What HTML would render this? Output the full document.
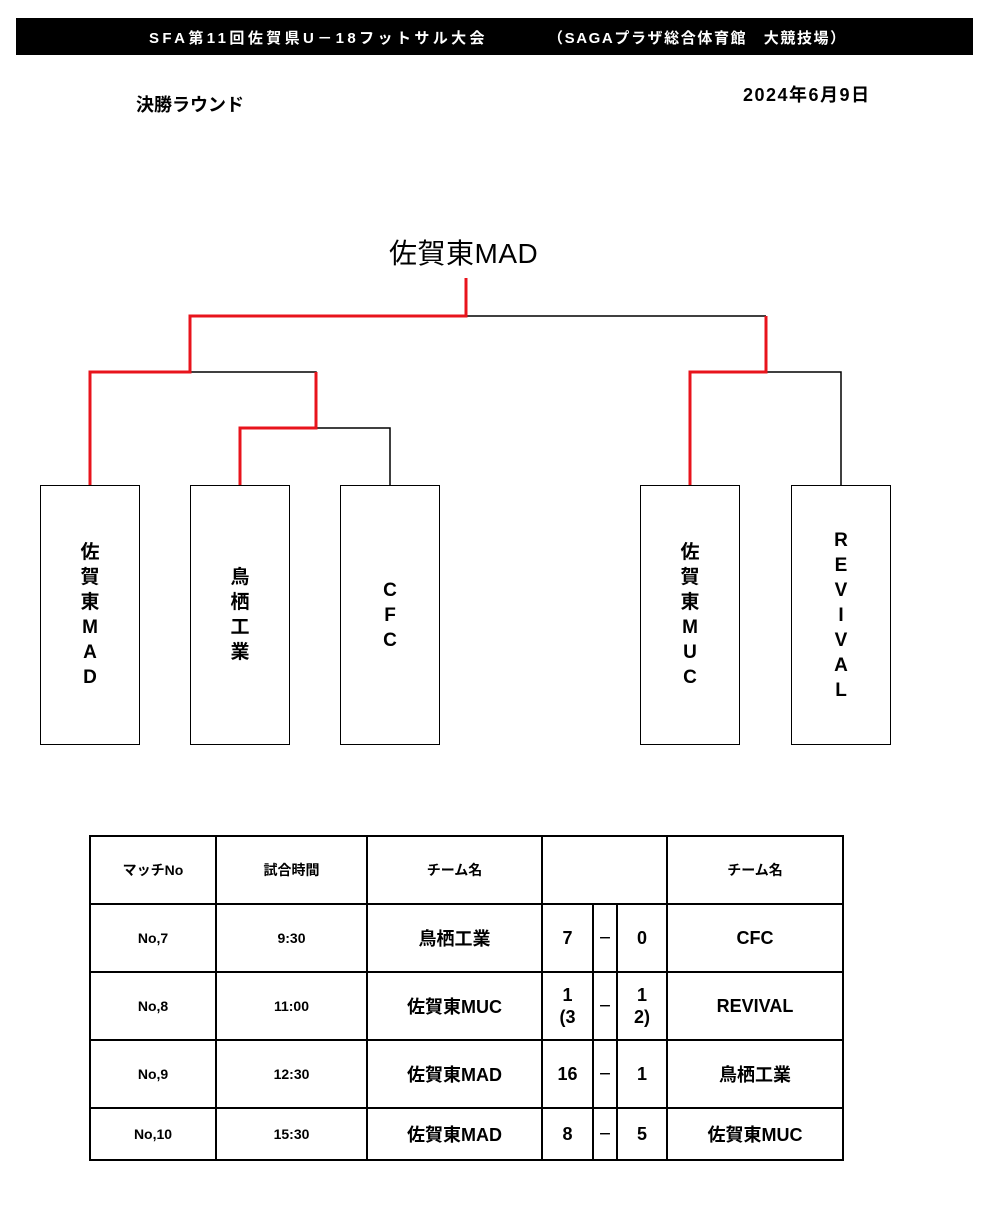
<!DOCTYPE html>
<html><head><meta charset="utf-8"><style>
body{margin:0;width:1000px;height:1212px;background:#fff;position:relative;font-family:"Liberation Sans","Noto Sans CJK JP",sans-serif;color:#000;overflow:hidden}
.a{position:absolute}
.bar{left:16px;top:18px;width:957px;height:37px;background:#000;color:#fff;font-size:15px;font-weight:bold}
.box{position:absolute;top:485px;width:98px;height:258px;border:1.5px solid #000;display:flex;align-items:center;justify-content:center;text-align:center;font-size:19px;font-weight:bold;line-height:25px}
table{position:absolute;left:89px;top:835px;border-collapse:collapse;font-weight:bold}
td{border:2px solid #000;text-align:center;padding:0;font-size:14px}
.big{font-size:18px}
</style></head><body>
<div class="a bar"><span class="a" style="left:133px;top:9px;letter-spacing:3.4px">SFA第11回佐賀県U－18フットサル大会</span><span class="a" style="left:532px;top:9px;letter-spacing:1.6px">（SAGAプラザ総合体育館　大競技場）</span></div>
<div class="a" style="left:136px;top:91px;font-size:18px;font-weight:bold">決勝ラウンド</div>
<div class="a" style="left:743px;top:81px;font-size:18px;font-weight:bold;letter-spacing:1.5px">2024年6月9日</div>
<div class="a" style="left:389px;top:232px;font-size:28px;letter-spacing:0.5px">佐賀東MAD</div>
<svg class="a" style="left:0;top:0" width="1000" height="800">
<g stroke="#000" stroke-width="1.5" fill="none">
<path d="M466 316H766M190 372H316V428M316 428H390V485M766 372H841V485"/>
</g>
<g stroke="#e8141c" stroke-width="3" fill="none">
<path d="M466 278V316H190V372H90V485M316 372V428H240V485M766 316V372H690V485"/>
</g>
</svg>
<div class="box" style="left:40px">佐<br>賀<br>東<br>M<br>A<br>D</div>
<div class="box" style="left:190px">鳥<br>栖<br>工<br>業</div>
<div class="box" style="left:340px">C<br>F<br>C</div>
<div class="box" style="left:640px">佐<br>賀<br>東<br>M<br>U<br>C</div>
<div class="box" style="left:791px">R<br>E<br>V<br>I<br>V<br>A<br>L</div>
<table>
<tr style="height:68px"><td style="width:124px">マッチNo</td><td style="width:149px">試合時間</td><td style="width:173px">チーム名</td><td colspan="3"></td><td style="width:174px">チーム名</td></tr>
<tr style="height:68px"><td>No,7</td><td>9:30</td><td class="big">鳥栖工業</td><td class="big" style="width:49px">7</td><td style="width:22px">－</td><td class="big" style="width:48px">0</td><td class="big">CFC</td></tr>
<tr style="height:68px"><td>No,8</td><td>11:00</td><td class="big">佐賀東MUC</td><td class="big" style="line-height:22px">1<br>(3</td><td>－</td><td class="big" style="line-height:22px">1<br>2)</td><td class="big">REVIVAL</td></tr>
<tr style="height:68px"><td>No,9</td><td>12:30</td><td class="big">佐賀東MAD</td><td class="big">16</td><td>－</td><td class="big">1</td><td class="big">鳥栖工業</td></tr>
<tr style="height:52px"><td>No,10</td><td>15:30</td><td class="big">佐賀東MAD</td><td class="big">8</td><td>－</td><td class="big">5</td><td class="big">佐賀東MUC</td></tr>
</table>
</body></html>
